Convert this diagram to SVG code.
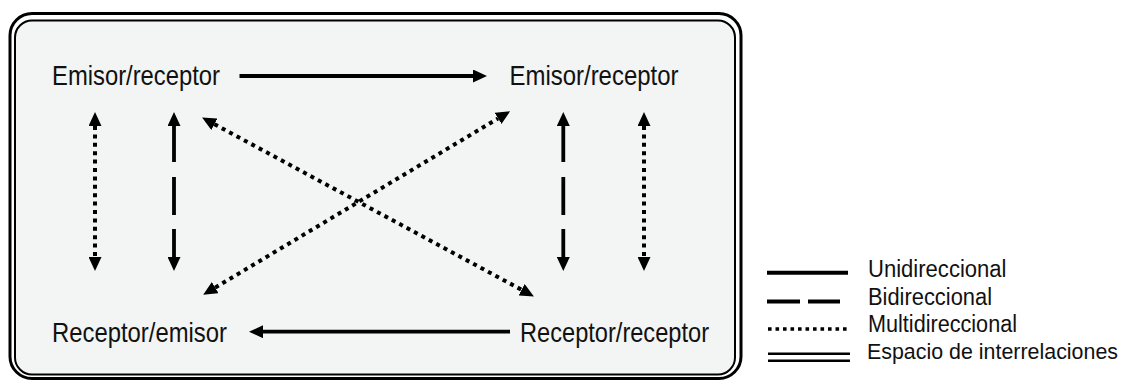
<svg xmlns="http://www.w3.org/2000/svg" width="1125" height="381" viewBox="0 0 1125 381">
  <style>
    .node { font-family: "Liberation Sans", Arial, sans-serif; font-size: 28px; fill: #111; }
    .legend { font-family: "Liberation Sans", Arial, sans-serif; font-size: 23px; fill: #111; }
    .solid { stroke: #000; stroke-width: 3.8; fill: none; }
    .dashed { stroke: #000; stroke-width: 3.8; fill: none; }
    .dotted { stroke: #000; stroke-width: 4; fill: none; stroke-dasharray: 4 4.4; }
  </style>
  <defs>
    <marker id="head" viewBox="0 0 14 13" markerWidth="14" markerHeight="13" refX="0" refY="6.5" markerUnits="userSpaceOnUse" orient="auto-start-reverse">
      <path d="M0,0 L14,6.5 L0,13 z" fill="#000"/>
    </marker>
  </defs>

  <!-- interrelation space: double rounded frame -->
  <g id="frame">
    <rect x="10" y="13.5" width="731" height="365" rx="22" fill="#fff" stroke="#000" stroke-width="3"/>
    <rect x="15" y="20.5" width="720" height="354" rx="17" fill="#f3f4f4" stroke="#000" stroke-width="2"/>
  </g>

  <!-- nodes -->
  <g id="node-tl">
    <text class="node" x="52" y="85" textLength="168" lengthAdjust="spacingAndGlyphs">Emisor/receptor</text>
  </g>
  <g id="node-tr">
    <text class="node" x="509.5" y="85" textLength="169" lengthAdjust="spacingAndGlyphs">Emisor/receptor</text>
  </g>
  <g id="node-bl">
    <text class="node" x="52" y="341.5" textLength="175" lengthAdjust="spacingAndGlyphs">Receptor/emisor</text>
  </g>
  <g id="node-br">
    <text class="node" x="520" y="341.5" textLength="189" lengthAdjust="spacingAndGlyphs">Receptor/receptor</text>
  </g>

  <!-- connectors -->
  <g id="connectors">
    <!-- unidirectional -->
    <line class="solid" x1="239.5" y1="76" x2="473" y2="76" marker-end="url(#head)"/>
    <line class="solid" x1="510" y1="331.7" x2="263" y2="331.7" marker-end="url(#head)"/>
    <!-- bidirectional -->
    <line class="dashed" x1="174" y1="126" x2="174" y2="257" stroke-dasharray="36 15 38 14 60" marker-start="url(#head)" marker-end="url(#head)"/>
    <line class="dashed" x1="563.3" y1="126" x2="563.3" y2="257" stroke-dasharray="36 15 38 14 60" marker-start="url(#head)" marker-end="url(#head)"/>
    <!-- multidirectional -->
    <line class="dotted" x1="95" y1="126" x2="95" y2="257" marker-start="url(#head)" marker-end="url(#head)"/>
    <line class="dotted" x1="644" y1="126" x2="644" y2="257" marker-start="url(#head)" marker-end="url(#head)"/>
    <line class="dotted" x1="214.4" y1="124.2" x2="521.6" y2="289.8" marker-start="url(#head)" marker-end="url(#head)"/>
    <line class="dotted" x1="215.2" y1="287.6" x2="498.1" y2="118.4" marker-start="url(#head)" marker-end="url(#head)"/>
  </g>

  <!-- legend -->
  <g id="legend">
    <line x1="767" y1="272.7" x2="848" y2="272.7" stroke="#000" stroke-width="4"/>
    <line x1="767" y1="301.5" x2="800" y2="301.5" stroke="#000" stroke-width="4"/>
    <line x1="808" y1="301.5" x2="840" y2="301.5" stroke="#000" stroke-width="4"/>
    <line x1="768" y1="329" x2="850" y2="329" stroke="#000" stroke-width="3.6" stroke-dasharray="3.6 3.9"/>
    <line x1="768" y1="353.8" x2="850" y2="353.8" stroke="#000" stroke-width="2.6"/>
    <line x1="768" y1="360.7" x2="850" y2="360.7" stroke="#000" stroke-width="2.6"/>
    <text class="legend" x="868" y="277.3" textLength="138.5" lengthAdjust="spacingAndGlyphs">Unidireccional</text>
    <text class="legend" x="868" y="304.5" textLength="124" lengthAdjust="spacingAndGlyphs">Bidireccional</text>
    <text class="legend" x="868" y="331.7" textLength="149" lengthAdjust="spacingAndGlyphs">Multidireccional</text>
    <text class="legend" x="867" y="358.7" style="font-size:21.5px" textLength="251" lengthAdjust="spacingAndGlyphs">Espacio de interrelaciones</text>
  </g>
</svg>
